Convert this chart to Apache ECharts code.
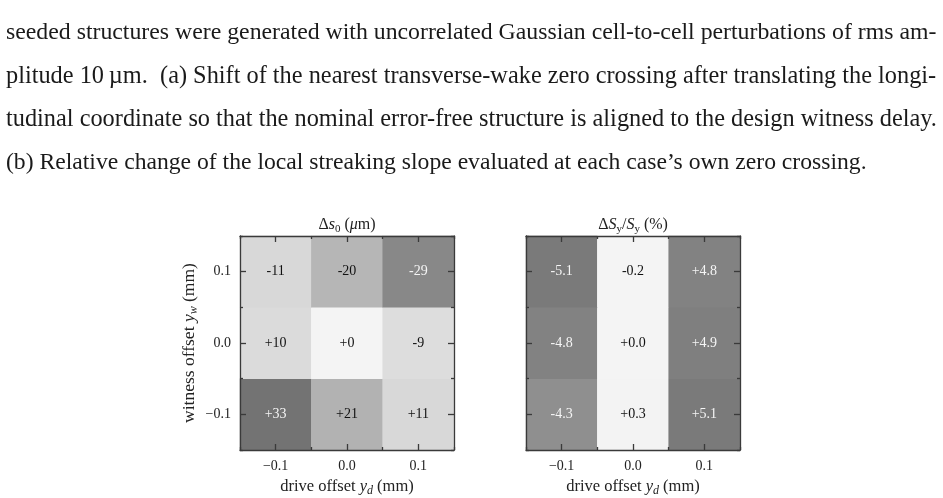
<!DOCTYPE html>
<html>
<head>
<meta charset="utf-8">
<script src="https://cdn.jsdelivr.net/npm/echarts@6/dist/echarts.min.js"></script>
<style>
  html, body { margin: 0; padding: 0; background: #fff; }
  #chart { width: 943px; height: 498px; }
</style>
</head>
<body>
<div id="chart"></div>
<script>
'use strict';

/* caption text above the figure */
var captionLines = [
    'seeded structures were generated with uncorrelated Gaussian cell-to-cell perturbations of rms am-',
    'plitude 10\u2009\u00b5m.  (a) Shift of the nearest transverse-wake zero crossing after translating the longi-',
    'tudinal coordinate so that the nominal error-free structure is aligned to the design witness delay.',
    '(b) Relative change of the local streaking slope evaluated at each case\u2019s own zero crossing.'
];
var captionWidths = [931, 931, 931, 861];

/* offsets (mm), same ticks on both axes */
var offsetLabels = ['\u22120.1', '0.0', '0.1'];

/* rows: witness offset -0.1, 0.0, 0.1 ; columns: drive offset -0.1, 0.0, 0.1 */
var zeroShift = [
    [33, 21, 11],
    [10, 0, -9],
    [-11, -20, -29]
];
var slopeChange = [
    [-4.3, 0.3, 5.1],
    [-4.8, 0.0, 4.9],
    [-5.1, -0.2, 4.8]
];

var serif = 'Liberation Serif';
var frameColor = '#3a3a3a';

var makeRich = function (size) {
    var sub = Math.round(size * 0.7);
    return {
        r: { fontFamily: serif, fontSize: size, color: '#222', lineHeight: size + 4 },
        i: { fontFamily: serif, fontSize: size, color: '#222', lineHeight: size + 4, fontStyle: 'italic' },
        sub: { fontFamily: serif, fontSize: sub, color: '#222', lineHeight: sub, verticalAlign: 'bottom' },
        subi: { fontFamily: serif, fontSize: sub, color: '#222', lineHeight: sub, verticalAlign: 'bottom', fontStyle: 'italic' }
    };
};

/* build heatmap cells: [x, y, value, |value|] */
var buildCells = function (rows, maxAbs) {
    var cells = [];
    rows.forEach(function (row, yi) {
        row.forEach(function (v, xi) {
            var dark = Math.abs(v) / maxAbs > 0.75;
            cells.push({
                value: [xi, yi, v, Math.abs(v)],
                label: { color: dark ? '#f5f5f5' : '#111' }
            });
        });
    });
    return cells;
};

var signed = function (v, digits) {
    var s = Math.abs(v).toFixed(digits);
    return (v < 0 ? '-' : '+') + s;
};

/* one category axis; major ticks at cell centres, minor at cell edges */
var tickAxis = function (gridIndex, position, major, extra) {
    var ax = {
        type: 'category',
        gridIndex: gridIndex,
        position: position,
        data: offsetLabels,
        boundaryGap: true,
        z: 10,
        axisLine: { show: major, lineStyle: { color: frameColor, width: 1.3 } },
        axisTick: {
            show: true, inside: true, alignWithLabel: major,
            length: major ? 6 : 3,
            lineStyle: { color: frameColor, width: 1.3 }
        },
        axisLabel: { show: false },
        splitLine: { show: false }
    };
    return Object.assign(ax, extra || {});
};

var xAxes = [];
var yAxes = [];
[0, 1].forEach(function (g) {
    xAxes.push(tickAxis(g, 'bottom', true, {
        axisLabel: { show: true, margin: 9, fontFamily: serif, fontSize: 14, color: '#222' },
        name: '{r|drive offset }{i|y}{subi|d}{r| (mm)}',
        nameLocation: 'middle',
        nameGap: 26,
        nameTextStyle: { rich: makeRich(16.5) }
    }));
    xAxes.push(tickAxis(g, 'bottom', false));
    xAxes.push(tickAxis(g, 'top', true, {
        name: g === 0 ? '{r|\u0394}{i|s}{sub|0}{r| (}{i|\u03bc}{r|m)}' : '{r|\u0394}{i|S}{sub|y}{r|/}{i|S}{sub|y}{r| (%)}',
        nameLocation: 'middle',
        nameGap: 1,
        nameTextStyle: { rich: makeRich(16) }
    }));
    xAxes.push(tickAxis(g, 'top', false));

    yAxes.push(tickAxis(g, 'left', true, g === 0 ? {
        axisLabel: { show: true, margin: 9, fontFamily: serif, fontSize: 14, color: '#222' },
        name: '{r|witness offset }{i|y}{subi|w}{r| (mm)}',
        nameLocation: 'middle',
        nameGap: 40,
        nameTextStyle: { rich: makeRich(17.5) }
    } : {}));
    yAxes.push(tickAxis(g, 'left', false));
    yAxes.push(tickAxis(g, 'right', true));
    yAxes.push(tickAxis(g, 'right', false));
});

/* caption lines as titles; font size picked so each line fills its width */
var measure = document.createElement('canvas').getContext('2d');
measure.font = '20px "' + serif + '"';
var caption = captionLines.map(function (line, i) {
    var size = 20 * captionWidths[i] / measure.measureText(line).width;
    if (i === captionLines.length - 1) {
        size = Math.min(size, 20 * captionWidths[0] / measure.measureText(captionLines[0]).width);
    }
    return {
        text: line,
        left: 6,
        top: 21 + i * 43.3,
        padding: 0,
        textStyle: {
            fontFamily: serif, fontSize: size, fontWeight: 'normal',
            color: '#1a1a1a', lineHeight: 24
        }
    };
});

var chart = echarts.init(document.getElementById('chart'));
var option = {
    animation: false,
    backgroundColor: '#fff',
    textStyle: { fontFamily: serif },
    title: caption,
    grid: [
        { left: 240, top: 236, width: 214, height: 214 },
        { left: 526, top: 236, width: 214, height: 214 }
    ],
    xAxis: xAxes,
    yAxis: yAxes,
    visualMap: [
        {
            type: 'continuous', show: false, seriesIndex: 0, dimension: 3,
            min: 0, max: 33,
            inRange: { color: ['#f4f4f4', '#d8d8d8', '#aeaeae', '#737373'] }
        },
        {
            type: 'continuous', show: false, seriesIndex: 1, dimension: 3,
            min: 0, max: 5.1,
            inRange: { color: ['#f4f4f4', '#f0f0f0', '#a6a6a6', '#7a7a7a'] }
        }
    ],
    series: [
        {
            type: 'heatmap',
            xAxisIndex: 0,
            yAxisIndex: 0,
            data: buildCells(zeroShift, 33),
            label: {
                show: true, fontFamily: serif, fontSize: 14,
                formatter: function (p) { return signed(p.data.value[2], 0); }
            },
            emphasis: { disabled: true }
        },
        {
            type: 'heatmap',
            xAxisIndex: 4,
            yAxisIndex: 4,
            data: buildCells(slopeChange, 5.1),
            label: {
                show: true, fontFamily: serif, fontSize: 14,
                formatter: function (p) { return signed(p.data.value[2], 1); }
            },
            emphasis: { disabled: true }
        }
    ]
};
chart.setOption(option);
</script>
</body>
</html>
